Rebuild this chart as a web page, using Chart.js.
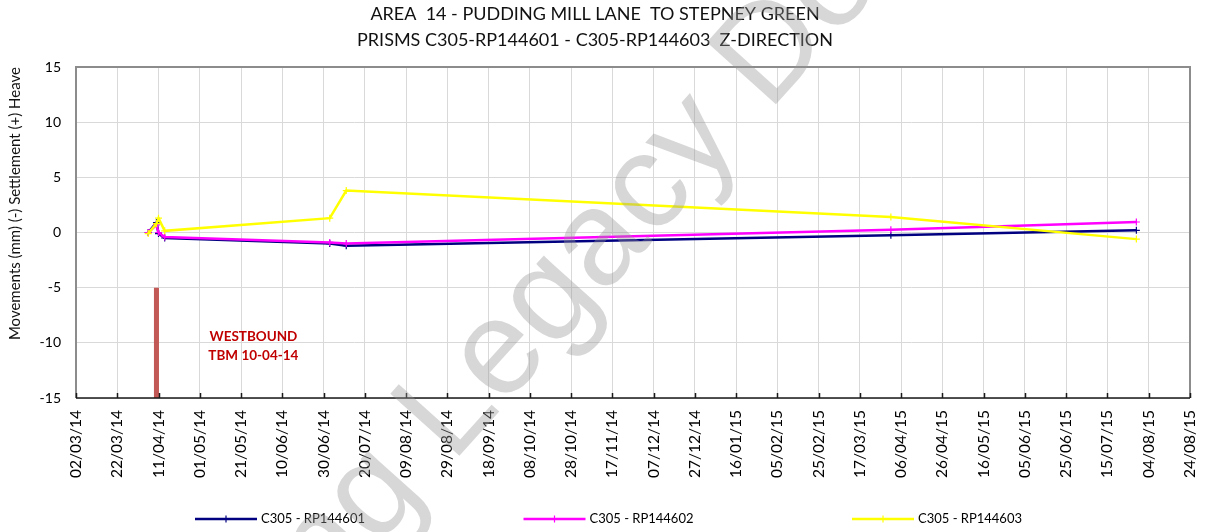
<!DOCTYPE html>
<html>
<head>
<meta charset="utf-8">
<title>Area 14 - Pudding Mill Lane to Stepney Green</title>
<script src="https://cdn.jsdelivr.net/npm/chart.js@4/dist/chart.umd.min.js"></script>
<style>
  html, body { margin: 0; padding: 0; background: #fff; }
  #wrap { width: 1205px; height: 532px; }
</style>
</head>
<body>
<div id="wrap"><canvas id="prism_chart" width="1205" height="532"></canvas></div>
<script>
/*-------- Data ---------*/
const startDate = "02/03/14";
const readingDates = ["06/04/14", "10/04/14", "11/04/14", "14/04/14", "03/07/14", "11/07/14", "01/04/15", "29/07/15"];

const rp144601 = [0, 0.9, -0.1, -0.5, -1.0, -1.2, -0.25, 0.2];
const rp144602 = [0, 0.7, 0.0, -0.4, -0.9, -1.0, 0.25, 0.95];
const rp144603 = [-0.1, 0.8, 1.3, 0.15, 1.3, 3.8, 1.4, -0.6];

const seriesNames = ["C305 - RP144601", "C305 - RP144602", "C305 - RP144603"];
const seriesColors = ["#000080", "#ff00ff", "#ffff00"];

// TBM passing marker
const tbmDate = "10/04/14";
const tbmRange = [-5, -15];
const tbmLabel = ["WESTBOUND", "TBM 10-04-14"];
const tbmLabelDate = "27/05/14";
const tbmLabelValues = [-9.4, -11.2];

const xTickLabels = [
  "02/03/14", "22/03/14", "11/04/14", "01/05/14", "21/05/14", "10/06/14", "30/06/14",
  "20/07/14", "09/08/14", "29/08/14", "18/09/14", "08/10/14", "28/10/14", "17/11/14",
  "07/12/14", "27/12/14", "16/01/15", "05/02/15", "25/02/15", "17/03/15", "06/04/15",
  "26/04/15", "16/05/15", "05/06/15", "25/06/15", "15/07/15", "04/08/15", "24/08/15"
];
const yTicks = [-15, -10, -5, 0, 5, 10, 15];

const titleLines = [
  "AREA  14 - PUDDING MILL LANE  TO STEPNEY GREEN",
  "PRISMS C305-RP144601 - C305-RP144603  Z-DIRECTION"
];
const yTitle = "Movements (mm) (-) Settlement (+) Heave";
const watermark = "Learning Legacy Document";

// dd/mm/yy -> days since start date (linear axis, no date adapter)
function toDay(s) {
  const p = s.split("/");
  const t = Date.UTC(2000 + Number(p[2]), Number(p[1]) - 1, Number(p[0]));
  const s0 = startDate.split("/");
  const t0 = Date.UTC(2000 + Number(s0[2]), Number(s0[1]) - 1, Number(s0[0]));
  return Math.round((t - t0) / 86400000);
}

const xDays = readingDates.map(toDay);
const xTickDays = xTickLabels.map(toDay);

function points(values) {
  return values.map((v, i) => ({ x: xDays[i], y: v }));
}

const FONT = "Lato";

/*-------- Plugins ---------*/
// plot frame: grey on three sides, black axis along the bottom with small inner ticks
const framePlugin = {
  id: "frame",
  afterDatasetsDraw(chart) {
    const { ctx, chartArea: a, scales } = chart;
    ctx.save();
    ctx.strokeStyle = "#8c8c8c";
    ctx.lineWidth = 2;
    ctx.beginPath();
    ctx.moveTo(a.left, a.bottom);
    ctx.lineTo(a.left, a.top);
    ctx.lineTo(a.right, a.top);
    ctx.lineTo(a.right, a.bottom);
    ctx.stroke();
    ctx.strokeStyle = "#1a1a1a";
    ctx.lineWidth = 1.5;
    ctx.beginPath();
    ctx.moveTo(a.left, a.bottom);
    ctx.lineTo(a.right, a.bottom);
    xTickDays.forEach((d) => {
      const x = Math.round(scales.x.getPixelForValue(d)) + 0.5;
      ctx.moveTo(x, a.bottom);
      ctx.lineTo(x, a.bottom - 5);
    });
    ctx.stroke();

    // TBM note
    ctx.fillStyle = "#c00000";
    ctx.font = "bold 13.5px " + FONT;
    ctx.textAlign = "center";
    ctx.textBaseline = "middle";
    const lx = scales.x.getPixelForValue(toDay(tbmLabelDate));
    tbmLabel.forEach((t, i) => {
      ctx.fillText(t, lx, scales.y.getPixelForValue(tbmLabelValues[i]));
    });
    ctx.restore();
  },
};

// legend along the bottom
const legendPlugin = {
  id: "lineLegend",
  afterDraw(chart) {
    const ctx = chart.ctx;
    const y = 519;
    const start = 195, step = 328.5, len = 62;
    ctx.save();
    seriesNames.forEach((name, i) => {
      const x = start + i * step;
      ctx.strokeStyle = seriesColors[i];
      ctx.lineWidth = 2.5;
      ctx.beginPath();
      ctx.moveTo(x, y);
      ctx.lineTo(x + len, y);
      ctx.stroke();
      ctx.lineWidth = 1.2;
      ctx.beginPath();
      ctx.moveTo(x + len / 2, y - 3.5);
      ctx.lineTo(x + len / 2, y + 3.5);
      ctx.stroke();
      ctx.fillStyle = "#000";
      ctx.font = "13px " + FONT;
      ctx.textAlign = "left";
      ctx.textBaseline = "middle";
      ctx.fillText(name, x + len + 4, y);
    });
    ctx.restore();
  },
};

// diagonal watermark over everything
const watermarkPlugin = {
  id: "watermark",
  afterDraw(chart) {
    const ctx = chart.ctx;
    ctx.save();
    ctx.translate(452, 464);
    ctx.rotate(-48 * Math.PI / 180);
    ctx.font = "135px 'Liberation Sans'";
    ctx.fillStyle = "rgba(150,150,150,0.38)";
    ctx.textBaseline = "alphabetic";
    ctx.textAlign = "left";
    const lead = ctx.measureText("Learning ").width;
    ctx.fillText(watermark, -lead, 0);
    ctx.restore();
  },
};

/*-------- Chart ---------*/
const ctx = document.getElementById("prism_chart").getContext("2d");

const lineStyle = (i) => ({
  borderColor: seriesColors[i],
  backgroundColor: seriesColors[i],
  borderWidth: 2.5,
  pointStyle: "cross",
  pointRadius: 3.5,
  pointBorderWidth: 1.2,
  fill: false,
  tension: 0,
});

const my_chart = new Chart(ctx, {
  type: "line",
  data: {
    datasets: [
      { label: seriesNames[0], data: points(rp144601), order: 3, ...lineStyle(0) },
      { label: seriesNames[1], data: points(rp144602), order: 2, ...lineStyle(1) },
      { label: seriesNames[2], data: points(rp144603), order: 1, ...lineStyle(2) },
      {
        label: "TBM",
        data: tbmRange.map((v) => ({ x: toDay(tbmDate), y: v })),
        borderColor: "rgba(192,80,77,0.95)",
        borderWidth: 5,
        pointRadius: 0,
        borderCapStyle: "butt",
        order: 0,
      },
    ],
  },
  options: {
    responsive: false,
    animation: false,
    layout: { padding: { left: 0, right: 15, top: 0, bottom: 44 } },
    plugins: {
      legend: { display: false },
      tooltip: { enabled: false },
      title: {
        display: true,
        text: titleLines,
        color: "#111",
        font: { family: FONT, size: 18, weight: "normal", lineHeight: 1.4 },
        padding: { top: 2, bottom: 14.6 },
      },
    },
    scales: {
      x: {
        type: "linear",
        min: 0,
        max: xTickDays[xTickDays.length - 1],
        afterBuildTicks: (scale) => {
          scale.ticks = xTickDays.map((d) => ({ value: d }));
        },
        afterFit: (scale) => {
          scale.height = 90;
          scale.paddingLeft = 0;
          scale.paddingRight = 0;
        },
        ticks: {
          autoSkip: false,
          maxRotation: 90,
          minRotation: 90,
          padding: 12,
          color: "#000",
          font: { family: FONT, size: 15.5 },
          callback: (v) => {
            const i = xTickDays.indexOf(v);
            return i >= 0 ? xTickLabels[i] : "";
          },
        },
        grid: { color: "#d9d9d9", lineWidth: 1, drawTicks: false },
        border: { display: false },
      },
      y: {
        min: yTicks[0],
        max: yTicks[yTicks.length - 1],
        afterBuildTicks: (scale) => {
          scale.ticks = yTicks.map((v) => ({ value: v }));
        },
        afterFit: (scale) => { scale.width = 76; },
        ticks: {
          padding: 15,
          color: "#000",
          font: { family: FONT, size: 14 },
        },
        grid: { color: "#d9d9d9", lineWidth: 1, drawTicks: false },
        border: { display: false },
        title: {
          display: true,
          text: yTitle,
          align: "end",
          color: "#111",
          font: { family: FONT, size: 15 },
          padding: { top: 6, bottom: 0 },
        },
      },
    },
  },
  plugins: [framePlugin, legendPlugin, watermarkPlugin],
});
</script>
</body>
</html>
